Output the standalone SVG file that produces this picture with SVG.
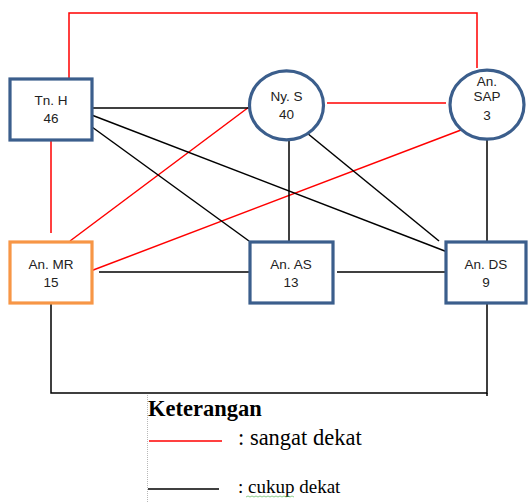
<svg xmlns="http://www.w3.org/2000/svg" width="528" height="502" viewBox="0 0 528 502">
<style>
.box{fill:#fff;stroke:#3B5E8C;stroke-width:3.2}
.org{fill:#fff;stroke:#F79646;stroke-width:3.2}
.lbl{font-family:"Liberation Sans",Arial,sans-serif;font-size:13.5px;fill:#222;text-anchor:middle}
.red{stroke:#FF0000;stroke-width:1.5;fill:none}
.blk{stroke:#000;stroke-width:1.5;fill:none}
.leg{font-family:"Liberation Serif","Times New Roman",serif;fill:#000}
</style>
<rect width="528" height="502" fill="#fff"/>
<g id="connectors">
<polyline class="red" points="69,82 69,13 477,13 477,68"/>
<line class="red" x1="51" y1="141" x2="51" y2="233"/>
<line class="red" x1="249" y1="107" x2="70" y2="241"/>
<line class="red" x1="461" y1="130" x2="88" y2="272"/>
<line class="red" x1="327" y1="103" x2="446" y2="103"/>
<line class="blk" x1="92" y1="108" x2="249" y2="108"/>
<line class="blk" x1="89" y1="114" x2="450" y2="253"/>
<line class="blk" x1="92" y1="127" x2="249" y2="241"/>
<line class="blk" x1="289" y1="140" x2="289" y2="243"/>
<line class="blk" x1="307" y1="133" x2="439" y2="241"/>
<line class="blk" x1="487" y1="140" x2="487" y2="241"/>
<line class="blk" x1="99" y1="272" x2="249" y2="272"/>
<line class="blk" x1="337" y1="272" x2="446" y2="272"/>
<polyline class="blk" points="51,303 51,393 487,393 487,303"/>
<line class="blk" x1="487" y1="393" x2="487" y2="396"/>
</g>
<g id="TnH">
<rect class="box" x="10" y="79" width="82" height="61"/>
<text class="lbl" x="51" y="105">Tn. H</text>
<text class="lbl" x="51" y="123">46</text>
</g>
<g id="NyS">
<ellipse class="box" cx="286.5" cy="105.3" rx="37" ry="34.5"/>
<text class="lbl" x="286.5" y="101">Ny. S</text>
<text class="lbl" x="286.5" y="119">40</text>
</g>
<g id="AnSAP">
<ellipse class="box" cx="487" cy="104.7" rx="37" ry="34.5"/>
<text class="lbl" x="487" y="86">An.</text>
<text class="lbl" x="487" y="101">SAP</text>
<text class="lbl" x="487" y="120">3</text>
</g>
<g id="AnMR">
<rect class="org" x="10" y="242" width="82" height="61"/>
<text class="lbl" x="51" y="269">An. MR</text>
<text class="lbl" x="51" y="287">15</text>
</g>
<g id="AnAS">
<rect class="box" x="250" y="242" width="83" height="61"/>
<text class="lbl" x="291" y="269">An. AS</text>
<text class="lbl" x="291" y="287">13</text>
</g>
<g id="AnDS">
<rect class="box" x="446" y="242" width="80" height="61"/>
<text class="lbl" x="486" y="269">An. DS</text>
<text class="lbl" x="486" y="287">9</text>
</g>
<g id="legend">
<line x1="147.5" y1="395" x2="147.5" y2="502" stroke="#999" stroke-width="0.7" stroke-dasharray="1,1"/>
<text class="leg" x="148" y="416" font-size="22.5" font-weight="bold">Keterangan</text>
<line x1="149" y1="441" x2="222" y2="441" stroke="#FF0000" stroke-width="1.3"/>
<text class="leg" x="238" y="445" font-size="22.5">: sangat dekat</text>
<line x1="148" y1="489" x2="219" y2="489" stroke="#000" stroke-width="1.3"/>
<text class="leg" x="238" y="493" font-size="19">: cukup dekat</text>
<path d="M246,497 l2,-1 2,1 2,-1 2,1 2,-1 2,1 2,-1 2,1 2,-1 2,1 2,-1 2,1 2,-1 2,1 2,-1 2,1 2,-1 2,1 2,-1 2,1 2,-1 2,1 2,-1 2,1" fill="none" stroke="#5CB85C" stroke-width="0.7"/>
</g>
</svg>
